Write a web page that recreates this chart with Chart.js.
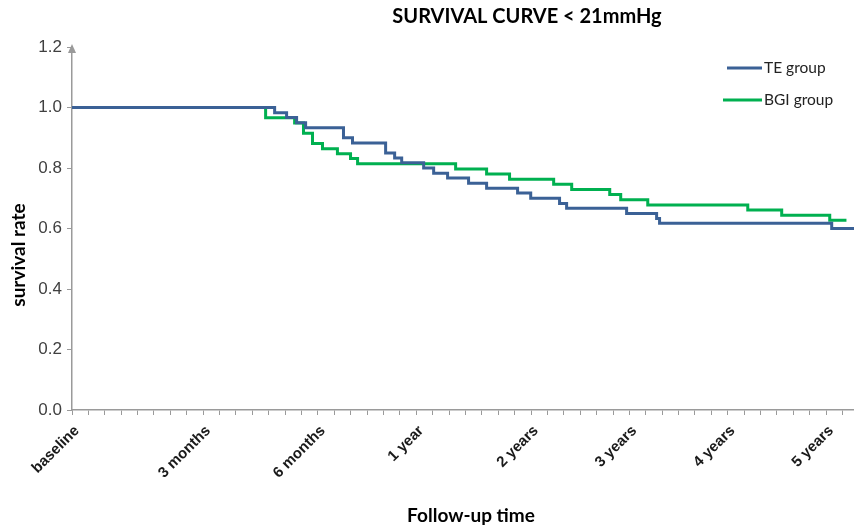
<!DOCTYPE html>
<html>
<head>
<meta charset="utf-8">
<script src="https://cdn.jsdelivr.net/npm/chart.js@4/dist/chart.umd.min.js"></script>
<style>
  html, body { margin: 0; padding: 0; background: #fff; }
  #wrap { width: 854px; height: 529px; }
</style>
</head>
<body>
<div id="wrap"><canvas id="chart"></canvas></div>
<script>
// x is in axis tick units (one minor tick = 1)
const teX  = [0, 12.36, 13.09, 13.70, 14.25, 16.56, 17.11, 19.13, 19.68, 20.11, 21.45, 22.06, 22.91, 24.19, 25.29, 27.18, 27.98, 29.74, 30.17, 33.83, 35.66, 35.84, 46.34, 47.7];
const teY  = [1.0, 0.983, 0.967, 0.950, 0.933, 0.900, 0.883, 0.850, 0.833, 0.817, 0.800, 0.783, 0.767, 0.750, 0.733, 0.717, 0.700, 0.683, 0.667, 0.650, 0.633, 0.617, 0.600, 0.600];
const bgiX = [0, 11.81, 13.58, 14.12, 14.67, 15.28, 16.19, 16.99, 17.42, 23.40, 25.29, 26.69, 29.38, 30.48, 32.80, 33.47, 35.12, 41.22, 43.29, 46.22, 47.24];
const bgiY = [1.0, 0.966, 0.949, 0.915, 0.881, 0.864, 0.847, 0.831, 0.814, 0.797, 0.780, 0.763, 0.746, 0.729, 0.712, 0.695, 0.678, 0.661, 0.644, 0.627, 0.627];

const tickPos    = [0, 8, 15, 21, 28, 34, 40, 46];
const tickLabels = ['baseline', '3 months', '6 months', '1 year', '2 years', '3 years', '4 years', '5 years'];

const seriesNames = ['TE group', 'BGI group'];
const titleText = 'SURVIVAL CURVE < 21mmHg';
const xTitle = 'Follow-up time';
const yTitle = 'survival rate';

const axisGray = '#9a9a9a';

const toPoints = (xs, ys) => xs.map((x, i) => ({ x, y: ys[i] }));

// titres + légende dessinés à la main (positions de l'original)
const extrasPlugin = {
  id: 'extras',
  afterDraw(chart) {
    const ctx = chart.ctx;
    const area = chart.chartArea;
    ctx.save();

    ctx.fillStyle = '#000';
    ctx.textAlign = 'center';
    ctx.textBaseline = 'middle';

    // titre
    ctx.font = 'bold 20px Lato';
    ctx.fillText(titleText, 527, 17);

    // titre axe x
    ctx.font = 'bold 19px Lato';
    ctx.fillText(xTitle, 471, 516);

    // titre axe y
    ctx.save();
    ctx.translate(19, 255);
    ctx.rotate(-Math.PI / 2);
    ctx.font = 'bold 19px Lato';
    ctx.fillText(yTitle, 0, 0);
    ctx.restore();

    // flèche en haut de l'axe y
    ctx.fillStyle = axisGray;
    ctx.beginPath();
    ctx.moveTo(area.left, area.top - 3);
    ctx.lineTo(area.left - 4, area.top + 6);
    ctx.lineTo(area.left + 4, area.top + 6);
    ctx.closePath();
    ctx.fill();

    // légende
    ctx.font = '15.5px Lato';
    ctx.textAlign = 'left';
    chart.data.datasets.forEach((ds, i) => {
      const y = 68 + i * 32;
      ctx.strokeStyle = ds.borderColor;
      ctx.lineWidth = 3;
      ctx.beginPath();
      ctx.moveTo(i === 0 ? 727 : 723, y);
      ctx.lineTo(762, y);
      ctx.stroke();
      ctx.fillStyle = '#222';
      ctx.fillText(ds.label, 764, y);
    });
    ctx.restore();
  }
};

new Chart(document.getElementById('chart'), {
  type: 'line',
  data: {
    datasets: [
      {
        label: seriesNames[0],
        data: toPoints(teX, teY),
        borderColor: '#3b6196',
        borderWidth: 3,
        stepped: true,
        pointRadius: 0,
        fill: false
      },
      {
        label: seriesNames[1],
        data: toPoints(bgiX, bgiY),
        borderColor: '#00b050',
        borderWidth: 3,
        stepped: true,
        pointRadius: 0,
        fill: false
      }
    ]
  },
  options: {
    responsive: true,
    maintainAspectRatio: false,
    animation: false,
    layout: { padding: { top: 47, right: 0, left: 0, bottom: 0 } },
    plugins: {
      legend: { display: false },
      title: { display: false },
      tooltip: { enabled: false }
    },
    scales: {
      x: {
        type: 'linear',
        min: 0,
        max: 47.7,
        afterBuildTicks(scale) {
          const t = [];
          for (let i = 0; i <= 47; i++) t.push({ value: i });
          scale.ticks = t;
        },
        afterFit(scale) {
          scale.height = 119;
          scale.paddingRight = 0;
        },
        grid: {
          drawOnChartArea: false,
          drawTicks: true,
          tickLength: 5,
          tickColor: axisGray
        },
        border: { display: true, color: axisGray, width: 1.5 },
        ticks: {
          autoSkip: false,
          maxRotation: 45,
          minRotation: 45,
          labelOffset: 5,
          padding: 7,
          color: '#1a1a1a',
          font: { family: 'Liberation Sans', size: 15, weight: 'bold' },
          callback: (v) => {
            const k = tickPos.indexOf(v);
            return k >= 0 ? tickLabels[k] : '';
          }
        }
      },
      y: {
        min: 0,
        max: 1.2,
        afterFit(scale) { scale.width = 72; },
        grid: {
          drawOnChartArea: false,
          drawTicks: true,
          tickLength: 5,
          tickColor: axisGray
        },
        border: { display: true, color: axisGray, width: 1.5 },
        ticks: {
          stepSize: 0.2,
          padding: 5,
          color: '#404040',
          font: { family: 'Liberation Sans', size: 17 },
          callback: (v) => v.toFixed(1)
        }
      }
    }
  },
  plugins: [extrasPlugin]
});
</script>
</body>
</html>
